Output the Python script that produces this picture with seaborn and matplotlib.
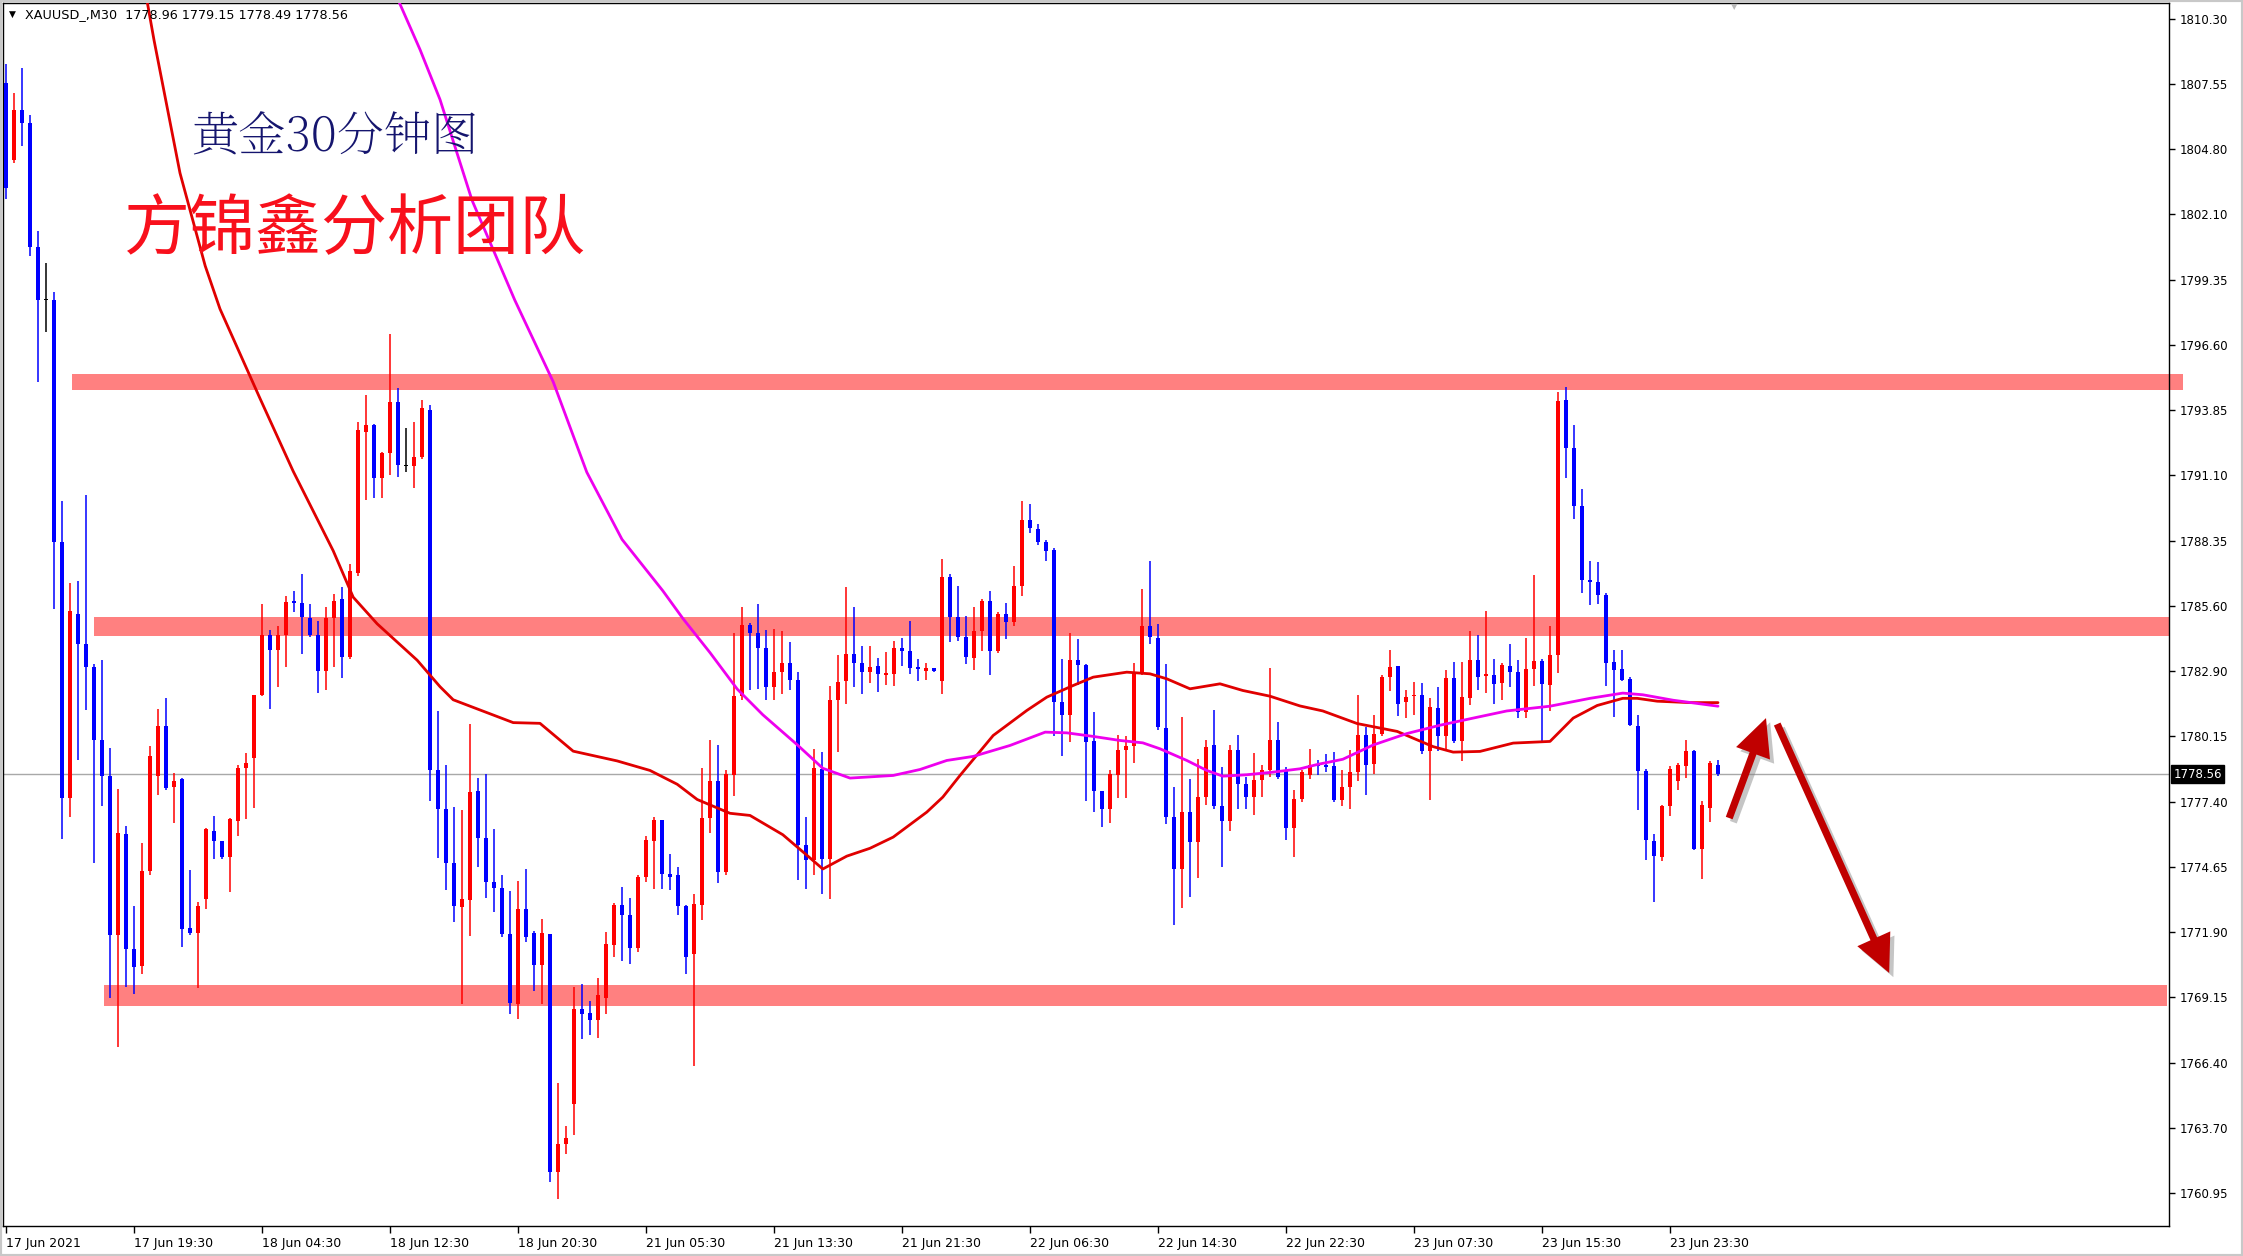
import numpy as np
import pandas as pd
import matplotlib
matplotlib.use("Agg")
import matplotlib.pyplot as plt
import matplotlib.transforms as mtransforms
from matplotlib.patches import Rectangle, FancyArrowPatch
from matplotlib import patheffects as pe
from matplotlib import font_manager
import seaborn as sns

# ---------------- data ----------------
opens = [1807.6, 1804.37, 1806.46, 1805.90, 1800.69, 1798.47, 1798.47, 1788.30, 1777.55, 1785.29,
         1784.04, 1783.06, 1780.00, 1778.47, 1771.78, 1776.05, 1771.22, 1770.50, 1774.50, 1778.47,
         1780.56, 1778.00, 1778.33, 1772.10, 1771.90, 1773.31, 1776.16, 1775.73, 1775.07, 1776.60,
         1778.80, 1779.25, 1781.89, 1784.40, 1783.76, 1784.40, 1785.80, 1785.74, 1785.10, 1784.40,
         1782.87, 1785.10, 1785.93, 1783.48, 1787.00, 1792.95, 1793.23, 1791.00, 1792.06, 1794.20,
         1791.50, 1791.50, 1791.89, 1793.84, 1778.74, 1777.09, 1774.81, 1772.97, 1773.26, 1777.85,
         1775.87, 1774.03, 1773.76, 1771.84, 1768.91, 1772.87, 1771.87, 1770.53, 1771.84, 1761.84,
         1763.03, 1764.68, 1768.67, 1768.50, 1768.24, 1769.14, 1771.38, 1773.05, 1772.63, 1771.25,
         1774.25, 1775.74, 1776.61, 1774.36, 1774.30, 1773.01, 1770.98, 1773.05, 1776.73, 1778.26,
         1774.43, 1778.53, 1781.82, 1784.83, 1784.50, 1783.84, 1782.22, 1782.85, 1783.24, 1782.49,
         1775.56, 1774.93, 1778.76, 1775.00, 1781.68, 1782.45, 1783.60, 1783.24, 1782.85, 1783.10,
         1782.73, 1782.77, 1783.85, 1783.73, 1783.00, 1782.90, 1783.00, 1782.45, 1786.83, 1785.15,
         1784.31, 1783.43, 1784.55, 1785.85, 1783.71, 1785.29, 1784.94, 1786.46, 1789.24, 1788.87,
         1788.31, 1787.98, 1781.60, 1781.02, 1783.33, 1783.12, 1779.93, 1777.83, 1777.07, 1778.53,
         1779.55, 1779.73, 1782.84, 1784.78, 1784.27, 1780.49, 1776.75, 1774.58, 1776.96, 1775.70,
         1777.59, 1779.79, 1777.21, 1776.57, 1779.59, 1778.15, 1777.59, 1778.29, 1778.75, 1779.97,
         1778.71, 1776.29, 1777.50, 1778.50, 1778.96, 1778.96, 1778.91, 1777.45, 1778.00, 1778.63,
         1780.19, 1778.99, 1780.23, 1782.64, 1783.09, 1781.60, 1781.82, 1781.86, 1779.51, 1781.32,
         1780.16, 1782.59, 1779.93, 1781.77, 1783.35, 1782.67, 1782.71, 1782.37, 1783.09, 1782.86,
         1781.17, 1782.97, 1783.32, 1782.31, 1783.54, 1794.29, 1792.26, 1789.83, 1786.73, 1786.62,
         1786.07, 1783.27, 1782.97, 1782.56, 1780.56, 1778.70, 1775.75, 1775.09, 1777.23, 1778.28,
         1778.91, 1779.51, 1775.39, 1777.15, 1778.96]
highs = [1808.4, 1807.16, 1808.22, 1806.24, 1801.39, 1800.05, 1798.80, 1790.03, 1786.60, 1786.68,
         1790.30, 1783.20, 1783.34, 1779.64, 1777.91, 1776.38, 1773.03, 1775.68, 1779.72, 1781.31,
         1781.75, 1778.60, 1778.40, 1774.51, 1773.20, 1776.30, 1776.80, 1775.75, 1776.70, 1778.94,
         1779.44, 1781.90, 1785.71, 1784.60, 1784.79, 1786.04, 1786.26, 1786.96, 1785.70, 1785.00,
         1785.57, 1786.13, 1786.40, 1787.38, 1793.37, 1794.48, 1793.28, 1792.10, 1797.05, 1794.76,
         1793.09, 1793.37, 1794.26, 1794.07, 1781.20, 1778.93, 1777.18, 1777.05, 1780.65, 1778.39,
         1778.57, 1776.25, 1774.30, 1773.64, 1774.07, 1774.57, 1771.96, 1772.45, 1771.84, 1765.58,
         1763.78, 1769.63, 1769.75, 1769.04, 1769.99, 1771.91, 1773.14, 1773.82, 1773.35, 1774.30,
         1775.96, 1776.77, 1776.64, 1775.20, 1774.66, 1773.05, 1773.50, 1778.80, 1779.97, 1779.79,
         1778.75, 1784.50, 1785.58, 1784.90, 1785.69, 1784.60, 1784.65, 1784.56, 1784.10, 1782.85,
         1776.77, 1779.61, 1779.47, 1782.27, 1783.57, 1786.41, 1785.58, 1783.96, 1783.96, 1783.43,
         1783.70, 1784.13, 1784.27, 1785.01, 1783.40, 1783.23, 1783.02, 1787.60, 1786.97, 1786.48,
         1785.22, 1785.57, 1785.92, 1786.27, 1785.36, 1785.76, 1787.30, 1790.03, 1789.89, 1789.05,
         1788.40, 1788.05, 1783.40, 1784.50, 1784.24, 1783.19, 1781.16, 1777.85, 1778.75, 1780.18,
         1780.15, 1783.24, 1786.34, 1787.49, 1784.87, 1783.19, 1778.01, 1780.95, 1778.36, 1779.20,
         1779.97, 1781.27, 1778.85, 1779.79, 1780.18, 1778.43, 1779.45, 1778.95, 1783.01, 1780.74,
         1778.85, 1777.87, 1778.73, 1779.63, 1779.15, 1779.40, 1779.48, 1778.73, 1779.56, 1781.89,
         1780.53, 1781.06, 1782.71, 1783.77, 1783.10, 1782.11, 1782.41, 1782.37, 1781.77, 1782.22,
         1782.94, 1783.27, 1783.27, 1784.56, 1784.41, 1785.42, 1783.39, 1783.21, 1784.02, 1783.36,
         1784.29, 1786.93, 1783.39, 1784.77, 1794.59, 1794.82, 1793.24, 1790.53, 1787.53, 1787.48,
         1786.17, 1783.77, 1783.77, 1782.64, 1781.02, 1778.76, 1776.05, 1777.26, 1778.88, 1779.03,
         1780.01, 1779.56, 1777.41, 1779.11, 1779.15]
lows = [1802.7, 1804.23, 1804.93, 1800.33, 1795.04, 1797.13, 1785.51, 1775.82, 1776.74, 1779.16,
        1781.25, 1774.84, 1777.21, 1769.13, 1767.10, 1769.61, 1769.33, 1770.17, 1774.30, 1777.69,
        1777.90, 1776.52, 1771.28, 1771.80, 1769.55, 1772.90, 1775.00, 1775.00, 1773.59, 1775.96,
        1776.66, 1777.13, 1781.85, 1781.31, 1782.23, 1783.06, 1785.37, 1783.62, 1784.30, 1781.95,
        1782.10, 1783.06, 1782.59, 1783.40, 1786.90, 1790.08, 1790.17, 1790.17, 1791.14, 1791.06,
        1791.23, 1790.58, 1791.78, 1777.41, 1775.05, 1773.68, 1772.33, 1768.91, 1771.75, 1774.66,
        1773.35, 1772.78, 1771.70, 1768.49, 1768.28, 1771.52, 1769.45, 1768.91, 1761.41, 1760.72,
        1762.61, 1763.39, 1767.42, 1767.60, 1767.47, 1768.46, 1770.89, 1770.71, 1770.58, 1771.07,
        1774.03, 1773.71, 1773.71, 1773.68, 1772.63, 1770.17, 1766.30, 1772.42, 1776.10, 1774.00,
        1774.30, 1777.63, 1781.68, 1782.09, 1782.13, 1781.68, 1781.68, 1781.91, 1782.09, 1774.12,
        1773.71, 1774.30, 1773.50, 1773.32, 1779.47, 1781.50, 1782.22, 1781.91, 1782.40, 1782.00,
        1782.28, 1782.26, 1783.10, 1782.77, 1782.45, 1782.50, 1782.84, 1781.93, 1784.10, 1784.13,
        1783.19, 1782.91, 1783.71, 1782.70, 1783.66, 1784.24, 1784.77, 1786.06, 1788.70, 1788.20,
        1787.53, 1780.15, 1779.31, 1779.90, 1782.31, 1777.41, 1776.96, 1776.33, 1776.51, 1777.55,
        1777.55, 1779.03, 1782.70, 1784.03, 1780.39, 1776.47, 1772.23, 1772.93, 1773.39, 1774.19,
        1777.24, 1777.10, 1774.65, 1776.15, 1777.10, 1777.10, 1776.82, 1777.59, 1778.43, 1778.36,
        1775.77, 1775.07, 1777.38, 1778.35, 1778.50, 1778.66, 1777.38, 1777.23, 1777.11, 1778.28,
        1777.68, 1778.58, 1780.16, 1782.04, 1780.99, 1780.91, 1781.06, 1779.41, 1777.45, 1779.51,
        1779.60, 1779.86, 1779.11, 1781.47, 1782.11, 1781.96, 1781.51, 1781.66, 1782.22, 1780.91,
        1780.91, 1782.26, 1779.96, 1781.21, 1782.79, 1790.99, 1789.29, 1786.17, 1785.65, 1785.72,
        1782.26, 1780.96, 1782.46, 1780.56, 1777.05, 1774.94, 1773.17, 1774.90, 1776.80, 1777.90,
        1778.40, 1775.35, 1774.14, 1776.55, 1778.49]
closes = [1803.2, 1806.46, 1805.90, 1800.69, 1798.47, 1798.47, 1788.30, 1777.55, 1785.43, 1784.04,
          1783.06, 1780.00, 1778.47, 1771.78, 1776.10, 1771.22, 1770.44, 1774.48, 1779.30, 1780.56,
          1777.97, 1778.27, 1772.06, 1771.90, 1773.03, 1776.24, 1775.76, 1775.07, 1776.66, 1778.80,
          1779.02, 1781.89, 1784.40, 1783.76, 1784.40, 1785.79, 1785.75, 1785.15, 1784.40, 1782.87,
          1785.10, 1785.85, 1783.48, 1787.10, 1793.01, 1793.23, 1791.00, 1792.06, 1794.20, 1791.56,
          1791.50, 1791.89, 1793.93, 1778.74, 1777.08, 1774.81, 1773.01, 1773.32, 1777.81, 1775.87,
          1774.03, 1773.76, 1771.84, 1768.96, 1772.87, 1771.73, 1770.53, 1771.87, 1761.84, 1763.03,
          1763.28, 1768.67, 1768.46, 1768.24, 1769.27, 1771.43, 1773.05, 1772.63, 1771.25, 1774.25,
          1775.78, 1776.61, 1774.36, 1774.25, 1773.01, 1770.89, 1773.10, 1776.73, 1778.26, 1774.43,
          1778.57, 1781.82, 1784.83, 1784.50, 1783.84, 1782.22, 1782.85, 1783.24, 1782.49, 1775.56,
          1774.93, 1778.80, 1774.97, 1781.68, 1782.43, 1783.60, 1783.24, 1782.85, 1783.05, 1782.77,
          1782.77, 1783.85, 1783.71, 1783.01, 1782.98, 1783.00, 1782.87, 1786.83, 1785.15, 1784.31,
          1783.47, 1784.55, 1785.85, 1783.71, 1785.29, 1784.94, 1786.46, 1789.24, 1788.89, 1788.31,
          1787.91, 1781.58, 1781.02, 1783.33, 1783.12, 1779.90, 1777.83, 1777.07, 1778.57, 1779.55,
          1779.73, 1782.84, 1784.78, 1784.31, 1780.53, 1776.75, 1774.58, 1776.96, 1775.70, 1777.59,
          1779.69, 1777.21, 1776.57, 1779.59, 1778.15, 1777.59, 1778.29, 1778.75, 1779.97, 1778.43,
          1776.29, 1777.52, 1778.66, 1778.96, 1778.88, 1778.86, 1777.45, 1778.01, 1778.66, 1780.19,
          1778.96, 1780.23, 1782.64, 1783.06, 1781.51, 1781.80, 1781.86, 1779.51, 1781.36, 1780.16,
          1782.59, 1779.93, 1781.81, 1783.35, 1782.64, 1782.76, 1782.34, 1783.12, 1782.86, 1781.17,
          1782.97, 1783.32, 1782.34, 1783.54, 1794.25, 1792.26, 1789.83, 1786.73, 1786.62, 1786.07,
          1783.21, 1782.94, 1782.52, 1780.61, 1778.70, 1775.80, 1775.12, 1777.23, 1778.76, 1778.96,
          1779.51, 1775.39, 1777.26, 1779.03, 1778.56]

# moving-average lines (bar position, price)
ma_red_x = [17.6, 18.5, 21.75, 24.9, 26.75, 31.75, 35.9, 40.9, 43.4, 46.4, 51.4, 54.25, 55.9, 63.4,
            66.75, 70.9, 76.4, 80.5, 83.9, 86.4, 90.5, 93.0, 97.1, 100.1, 102.1, 105.1, 108.0, 110.9,
            115.1, 117.1, 119.25, 123.4, 127.6, 130.1, 133.4, 135.9, 140.1, 143.0, 145.1, 148.0,
            151.75, 154.6, 158.0, 161.75, 164.6, 168.9, 173.9, 178.4, 180.9, 184.25, 188.4, 193.0,
            195.9, 198.9, 202.1, 203.9, 206.4, 210.5, 214.0]
ma_red_y = [1811.1, 1809.4, 1803.81, 1799.91, 1798.1, 1794.34, 1791.28, 1787.94, 1785.99, 1784.87,
            1783.34, 1782.23, 1781.68, 1780.72, 1780.69, 1779.52, 1779.11, 1778.71, 1778.13, 1777.49,
            1776.91, 1776.82, 1776.01, 1775.15, 1774.57, 1775.11, 1775.44, 1775.91, 1776.96, 1777.59,
            1778.5, 1780.18, 1781.23, 1781.79, 1782.28, 1782.63, 1782.84, 1782.77, 1782.56, 1782.14,
            1782.35, 1782.07, 1781.83, 1781.42, 1781.21, 1780.68, 1780.35, 1779.71, 1779.48, 1779.51,
            1779.86, 1779.93, 1780.91, 1781.44, 1781.74, 1781.74, 1781.62, 1781.56, 1781.56]
ma_mag_x = [49.0, 51.75, 54.25, 58.25, 63.6, 68.4, 72.6, 77.0, 82.1, 84.6, 88.0, 91.4, 94.6, 98.9,
            102.1, 105.5, 108.0, 110.9, 114.25, 117.6, 120.9, 125.5, 129.9, 132.6, 135.9, 139.25,
            142.1, 144.25, 147.6, 150.1, 152.1, 155.1, 158.4, 161.75, 163.9, 167.1, 170.9, 175.1,
            179.25, 183.4, 187.6, 193.0, 198.0, 202.1, 204.6, 208.4, 214.0]
ma_mag_y = [1811.1, 1809.0, 1806.9, 1802.67, 1798.47, 1795.04, 1791.24, 1788.42, 1786.26, 1785.1,
            1783.66, 1782.13, 1781.05, 1779.79, 1778.8, 1778.39, 1778.44, 1778.5, 1778.75, 1779.13,
            1779.3, 1779.76, 1780.32, 1780.29, 1780.14, 1779.97, 1779.87, 1779.62, 1779.13, 1778.71,
            1778.47, 1778.53, 1778.64, 1778.78, 1778.96, 1779.18, 1779.78, 1780.26, 1780.61, 1780.91,
            1781.21, 1781.41, 1781.74, 1781.96, 1781.89, 1781.66, 1781.41]

x_tick_pos = [0, 16, 32, 48, 64, 80, 96, 112, 128, 144, 160, 176, 192, 208]
x_tick_labels = ["17 Jun 2021", "17 Jun 19:30", "18 Jun 04:30", "18 Jun 12:30", "18 Jun 20:30",
                 "21 Jun 05:30", "21 Jun 13:30", "21 Jun 21:30", "22 Jun 06:30", "22 Jun 14:30",
                 "22 Jun 22:30", "23 Jun 07:30", "23 Jun 15:30", "23 Jun 23:30"]
y_tick_labels = ["1810.30", "1807.55", "1804.80", "1802.10", "1799.35", "1796.60", "1793.85",
                 "1791.10", "1788.35", "1785.60", "1782.90", "1780.15", "1777.40", "1774.65",
                 "1771.90", "1769.15", "1766.40", "1763.70", "1760.95"]
y_tick_values = np.linspace(1810.30, 1760.95, len(y_tick_labels))

band_lo = [1794.68, 1784.37, 1768.80]
band_hi = [1795.37, 1785.15, 1769.69]
band_x0 = [8.25, 11.0, 12.25]
band_x1 = [272.1, 270.4, 270.1]

last_price = 1778.56
header = "XAUUSD_,M30  1778.96 1779.15 1778.49 1778.56"
title1 = "黄金30分钟图"
title2 = "方锦鑫分析团队"

arrow_tail = [(215.4, 1776.71), (221.4, 1780.66)]
arrow_tip = [(220.0, 1780.91), (235.4, 1770.20)]

# ---------------- drawing ----------------
W, H, DPI = 2243, 1256, 100
sns.set_theme(style="white")
plt.rcParams['font.family'] = ['DejaVu Sans', 'Noto Sans CJK SC']

installed = {f.name for f in font_manager.fontManager.ttflist}
serif_cjk = [f for f in ["Noto Serif CJK SC", "Noto Serif CJK JP"] if f in installed]
title1_family = serif_cjk + ["Noto Sans CJK SC", "DejaVu Sans"]

fig = plt.figure(figsize=(W / DPI, H / DPI), dpi=DPI)
fig.patch.set_facecolor("white")
left, right, top, bottom = 3, 2169, 3, 1226
ax = fig.add_axes([left / W, 1 - bottom / H, (right - left) / W, (bottom - top) / H])
ax.set_facecolor("white")
ax.set_xlim(-0.375, 270.375)
ax.set_ylim(1759.57, 1810.955)

# bands
for lo, hi, x0, x1 in zip(band_lo, band_hi, band_x0, band_x1):
    ax.add_patch(Rectangle((x0, lo), x1 - x0, hi - lo, facecolor="#FF8080", edgecolor="none",
                           zorder=1, clip_on=False))

# last price line
ax.axhline(last_price, color="#A8A8A8", lw=1.0, zorder=2)

# candles
df = pd.DataFrame({"o": opens, "h": highs, "l": lows, "c": closes})
df["i"] = np.arange(len(df))
cols = np.where(df["c"] > df["o"], "#FF0000", np.where(df["c"] < df["o"], "#0000FF", "#000000"))
ax.vlines(df["i"], df["l"], df["h"], colors=cols, lw=1.1, zorder=3)
body_lo = np.minimum(df["o"], df["c"])
body_h = np.maximum(np.abs(df["c"] - df["o"]), 0.06)
ax.bar(df["i"], body_h, bottom=body_lo, width=0.62, color=cols, linewidth=0, zorder=4)

# moving averages
sns.lineplot(x=ma_red_x, y=ma_red_y, color="#E00000", lw=2.0, ax=ax, sort=False,
             estimator=None, zorder=5)
sns.lineplot(x=ma_mag_x, y=ma_mag_y, color="#EE00EE", lw=2.0, ax=ax, sort=False,
             estimator=None, zorder=5)

# arrows
for t, p in zip(arrow_tail, arrow_tip):
    arr = FancyArrowPatch(posA=t, posB=p,
                          arrowstyle="simple,head_length=2.7,head_width=2.6,tail_width=0.52",
                          mutation_scale=10, color="#C00000", lw=0, zorder=6, clip_on=False,
                          shrinkA=0, shrinkB=0)
    arr.set_path_effects([pe.SimplePatchShadow(offset=(3, -3), shadow_rgbFace="#808080", alpha=0.45),
                          pe.Normal()])
    ax.add_patch(arr)

# axes styling
for s in ax.spines.values():
    s.set_color("black")
    s.set_linewidth(1.0)
ax.yaxis.tick_right()
ax.set_yticks(y_tick_values)
ax.set_yticklabels(y_tick_labels)
ax.set_xticks(x_tick_pos)
ax.set_xticklabels(x_tick_labels)
ax.tick_params(axis="y", direction="out", length=4, width=1, pad=4, labelsize=8.5,
               colors="black", right=True, left=False)
ax.tick_params(axis="x", direction="out", length=5, width=1, pad=3, labelsize=9,
               colors="black", bottom=True)
for lab in ax.get_xticklabels():
    lab.set_ha("left")
ax.set_xlabel("")
ax.set_ylabel("")
ax.grid(False)

# last price label
trans = mtransforms.blended_transform_factory(ax.transAxes, ax.transData)
ax.text(1.002, last_price, "1778.56", transform=trans, ha="left", va="center", color="white",
        fontsize=8.5, zorder=10, clip_on=False,
        bbox=dict(boxstyle="square,pad=0.2", fc="black", ec="black"))

# header & titles
fig.text(9 / W, 1 - 14 / H, "▼", fontsize=6.5, color="black", va="center", ha="left")
fig.text(25 / W, 1 - 15 / H, header, fontsize=9.2, color="black", va="center", ha="left")
fig.text(1734 / W, 1 - 7 / H, "▼", fontsize=6, color="#B8B8B8", va="center", ha="center")
fig.text(191 / W, 1 - 138 / H, title1, fontsize=34, color="#15156E", va="center", ha="left",
         family=title1_family, fontweight="light")
fig.text(124 / W, 1 - 230 / H, title2, fontsize=47.5, color="#F8101C", va="center", ha="left",
         family=["Noto Sans CJK SC", "DejaVu Sans"], fontweight="medium")

# window frame
fig.patches.append(Rectangle((0, 0), 1, 1, transform=fig.transFigure, fill=False,
                             edgecolor="#C8C8C8", lw=3, zorder=0))

fig.savefig("out.png", dpi=DPI, facecolor="white")
